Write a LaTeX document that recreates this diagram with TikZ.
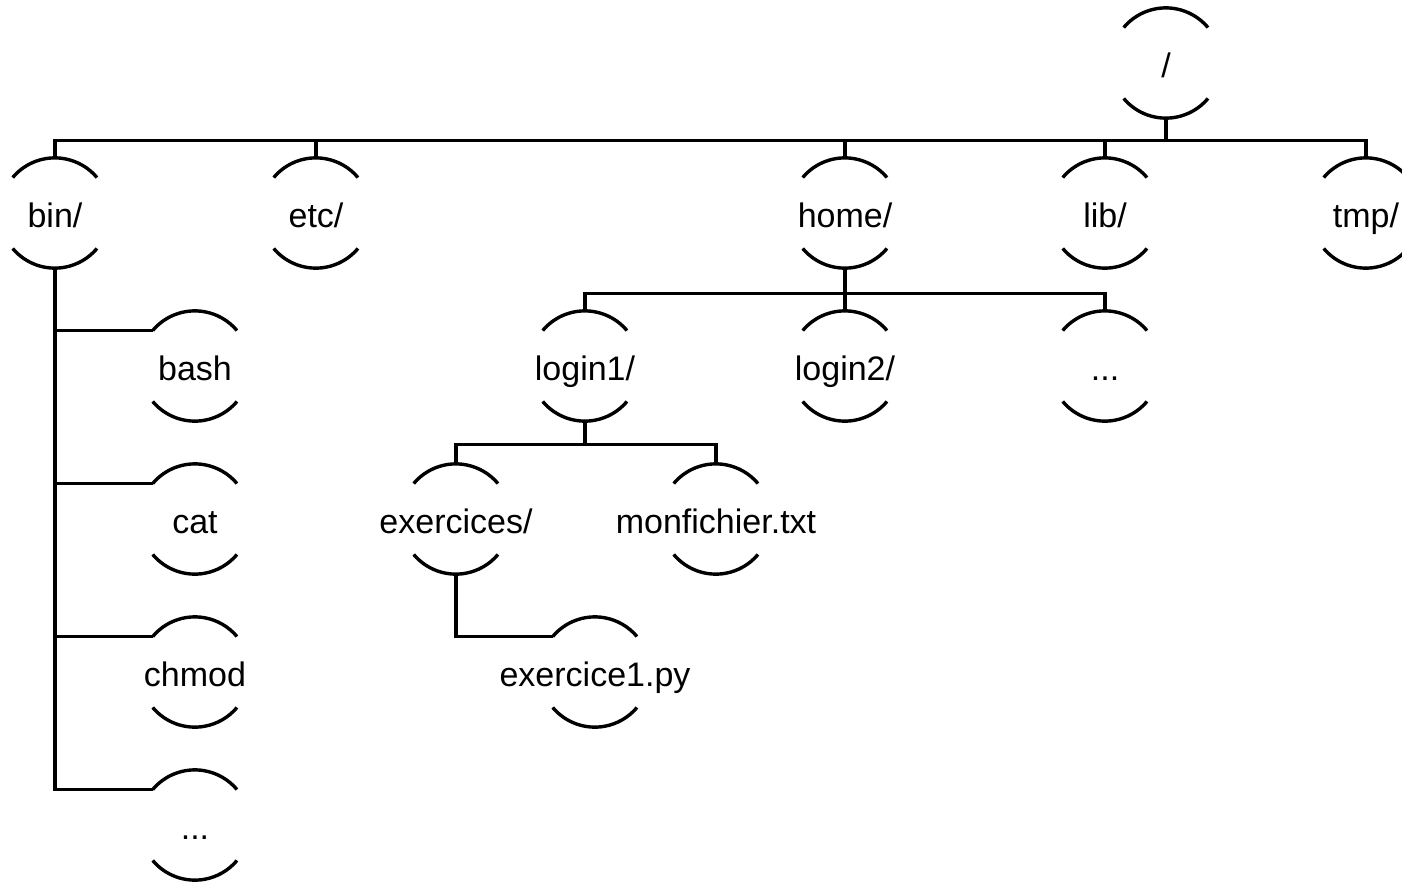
\documentclass[tikz,border=0pt]{standalone}
\usepackage{fontspec}
\setmainfont{Liberation Sans}
\begin{document}
\begin{tikzpicture}[x=1pt,y=1pt,
  dir/.style={circle, minimum size=110pt, inner sep=0pt,
    text height=28pt, text depth=0pt,
    font=\fontsize{34}{40}\selectfont},
  arcline/.style={line width=3.4pt},
  link/.style={line width=3.4pt}]
\useasboundingbox (0,0) rectangle (1402,-884);

% directory entries
\node[dir] (root)  at (1166,-63)  {\makebox[0pt]{/}};
\node[dir] (bin)   at (55,-213)   {\makebox[0pt]{bin/}};
\node[dir] (etc)   at (316,-213)  {\makebox[0pt]{etc/}};
\node[dir] (home)  at (845,-213)  {\makebox[0pt]{home/}};
\node[dir] (lib)   at (1105,-213) {\makebox[0pt]{lib/}};
\node[dir] (tmp)   at (1366,-213) {\makebox[0pt]{tmp/}};
\node[dir] (bash)  at (195,-366)  {\makebox[0pt]{bash}};
\node[dir] (cat)   at (195,-519)  {\makebox[0pt]{cat}};
\node[dir] (chmod) at (195,-672)  {\makebox[0pt]{chmod}};
\node[dir] (bdots) at (195,-825)  {\makebox[0pt]{...}};
\node[dir] (login1) at (585,-366) {\makebox[0pt]{login1/}};
\node[dir] (login2) at (845,-366) {\makebox[0pt]{login2/}};
\node[dir] (hdots)  at (1105,-366) {\makebox[0pt]{...}};
\node[dir] (exo)   at (456,-519)  {\makebox[0pt]{exercices/}};
\node[dir] (monf)  at (716,-519)  {\makebox[0pt]{monfichier.txt}};
\node[dir] (exo1)  at (595,-672)  {\makebox[0pt]{exercice1.py}};

% open arcs above and below each name
\foreach \n in {root,bin,etc,home,lib,tmp,bash,cat,chmod,bdots,login1,login2,hdots,exo,monf,exo1}{
  \draw[arcline] (\n.140) arc[start angle=140, end angle=40, radius=55pt];
  \draw[arcline] (\n.220) arc[start angle=220, end angle=320, radius=55pt];
}

% root level
\coordinate (rbus) at ([yshift=-22pt]root.south);
\draw[link] (root.south) -- (rbus);
\draw[link] (bin.north) |- (rbus) -| (tmp.north);
\foreach \n in {etc,home,lib}
  \draw[link] (\n.north) -- (\n.north |- rbus);

% bin/
\draw[link] (bin.south) |- (bdots.140);
\foreach \n in {bash,cat,chmod}
  \draw[link] (bin.south |- \n.140) -- (\n.140);

% home/
\coordinate (hbus) at ([yshift=-25pt]home.south);
\draw[link] (home.south) -- (login2.north);
\draw[link] (login1.north) |- (hbus) -| (hdots.north);

% login1/
\coordinate (lbus) at ([yshift=-23pt]login1.south);
\draw[link] (login1.south) -- (lbus);
\draw[link] (exo.north) |- (lbus) -| (monf.north);

% exercices/
\draw[link] (exo.south) |- (exo1.140);
\end{tikzpicture}
\end{document}
